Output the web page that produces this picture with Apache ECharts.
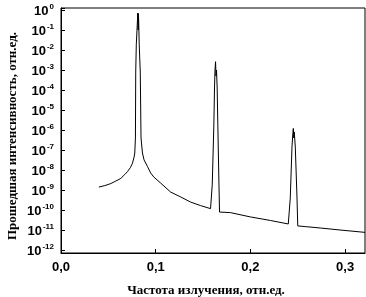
<!DOCTYPE html>
<html>
<head>
<meta charset="utf-8">
<script src="https://cdn.jsdelivr.net/npm/echarts@6/dist/echarts.min.js"></script>
<style>html,body{margin:0;padding:0;background:#fff}#c{width:366px;height:297px}</style>
</head>
<body>
<div id="c"></div>
<script>
// Frequency (rel. units)
const frequency = [
  0.0400, 0.0463, 0.0526, 0.0579, 0.0632, 0.0674, 0.0702, 0.0732, 0.0755, 0.0772,
  0.0779, 0.0786, 0.0789, 0.0795, 0.0811, 0.0815, 0.0818, 0.0821, 0.0826, 0.0837,
  0.0845, 0.0860, 0.0877, 0.0913, 0.0947, 0.0979, 0.1053, 0.1158, 0.1263, 0.1368,
  0.1474, 0.1579, 0.1592, 0.1597, 0.1614, 0.1621, 0.1626, 0.1632, 0.1637, 0.1642,
  0.1649, 0.1656, 0.1668, 0.1674, 0.1684, 0.1789, 0.2000, 0.2211, 0.2400, 0.2414,
  0.2421, 0.2439, 0.2447, 0.2453, 0.2458, 0.2463, 0.2474, 0.2492, 0.2500, 0.2579,
  0.2737, 0.2947, 0.3211
];
// Transmitted intensity (rel. units)
const intensity = [
  1.4e-9, 1.66e-9, 2.1e-9, 2.8e-9, 3.8e-9, 6.0e-9, 8.3e-9, 1.3e-8, 2.2e-8, 4.5e-8,
  7.1e-8, 4.0e-7, 7.9e-4, 1.8e-2, 0.71, 0.1, 0.65, 0.2, 1.8e-2, 7.9e-4,
  4.0e-7, 7.1e-8, 3.2e-8, 1.5e-8, 7.1e-9, 4.5e-9, 2.2e-9, 7.9e-10, 4.5e-10, 2.5e-10,
  1.66e-10, 1.17e-10, 1.12e-10, 1.8e-9, 1.8e-6, 1.26e-4, 1.0e-3, 2.6e-3, 5.0e-4, 1.0e-3,
  1.26e-4, 1.8e-6, 1.8e-9, 7.9e-11, 8.9e-11, 7.4e-11, 4.5e-11, 3.0e-11, 2.0e-11, 1.9e-11,
  4.0e-10, 1.4e-7, 5.6e-7, 1.2e-6, 4.0e-7, 8.0e-7, 1.4e-7, 4.0e-10, 1.6e-11, 1.48e-11,
  1.26e-11, 1.0e-11, 7.6e-12
];
const xTickValues = [0.0, 0.1, 0.2, 0.3];
const xTickLabels = ['0,0', '0,1', '0,2', '0,3'];
const yTickExponents = [0, -1, -2, -3, -4, -5, -6, -7, -8, -9, -10, -11, -12];
const xTitle = 'Частота излучения, отн.ед.';
const yTitle = 'Прошедшая интенсивность, отн.ед.';

const seriesData = frequency.map((f, i) => [f, Math.log10(intensity[i])]);

const chart = echarts.init(document.getElementById('c'), null, {renderer: 'canvas'});
chart.setOption({
  animation: false,
  backgroundColor: '#fff',
  grid: {left: 61, right: 1, top: 8, bottom: 44, show: true, borderColor: '#000', borderWidth: 1, backgroundColor: 'transparent'},
  xAxis: {
    type: 'value', min: 0, max: 0.321, interval: 0.1,
    axisLine: {show: true, onZero: false, lineStyle: {color: '#000', width: 1}},
    axisTick: {show: true, inside: true, length: 4, lineStyle: {color: '#000'}},
    splitLine: {show: false},
    axisLabel: {
      margin: 8, color: '#000', fontFamily: 'Liberation Sans', fontWeight: 'bold', fontSize: 13,
      showMaxLabel: false,
      formatter: v => {
        const k = xTickValues.findIndex(t => Math.abs(t - v) < 1e-6);
        return k >= 0 ? xTickLabels[k] : '';
      }
    }
  },
  yAxis: {
    type: 'value', min: -12.15, max: 0.1, minInterval: 1, maxInterval: 1, splitNumber: 12,
    axisLine: {show: true, lineStyle: {color: '#000', width: 1}},
    axisTick: {show: true, inside: true, length: 4, lineStyle: {color: '#000'}},
    splitLine: {show: false},
    axisLabel: {
      margin: 7, color: '#000',
      formatter: v => {
        const e = Math.round(v);
        if (Math.abs(v - e) > 1e-6 || yTickExponents.indexOf(e) < 0) return '';
        return '{b|10}{s|' + (e === 0 ? '0' : '-' + Math.abs(e)) + '}';
      },
      rich: {
        b: {fontFamily: 'Liberation Sans', fontWeight: 'bold', fontSize: 13, color: '#000', lineHeight: 15, verticalAlign: 'bottom'},
        s: {fontFamily: 'Liberation Sans', fontWeight: 'bold', fontSize: 8, color: '#000', verticalAlign: 'top', padding: [0, 0, 0, 1]}
      }
    }
  },
  graphic: [
    {type: 'text', x: 206, y: 291, style: {text: xTitle, fill: '#000', font: 'bold 13px "Liberation Serif"', textAlign: 'center', textVerticalAlign: 'middle'}},
    {type: 'text', x: 13, y: 136, rotation: Math.PI / 2, style: {text: yTitle, fill: '#000', font: 'bold 13px "Liberation Serif"', textAlign: 'center', textVerticalAlign: 'middle'}}
  ],
  series: [{
    type: 'line', data: seriesData, showSymbol: false, symbol: 'none',
    lineStyle: {color: '#000', width: 1}, clip: true
  }]
});
</script>
</body>
</html>
